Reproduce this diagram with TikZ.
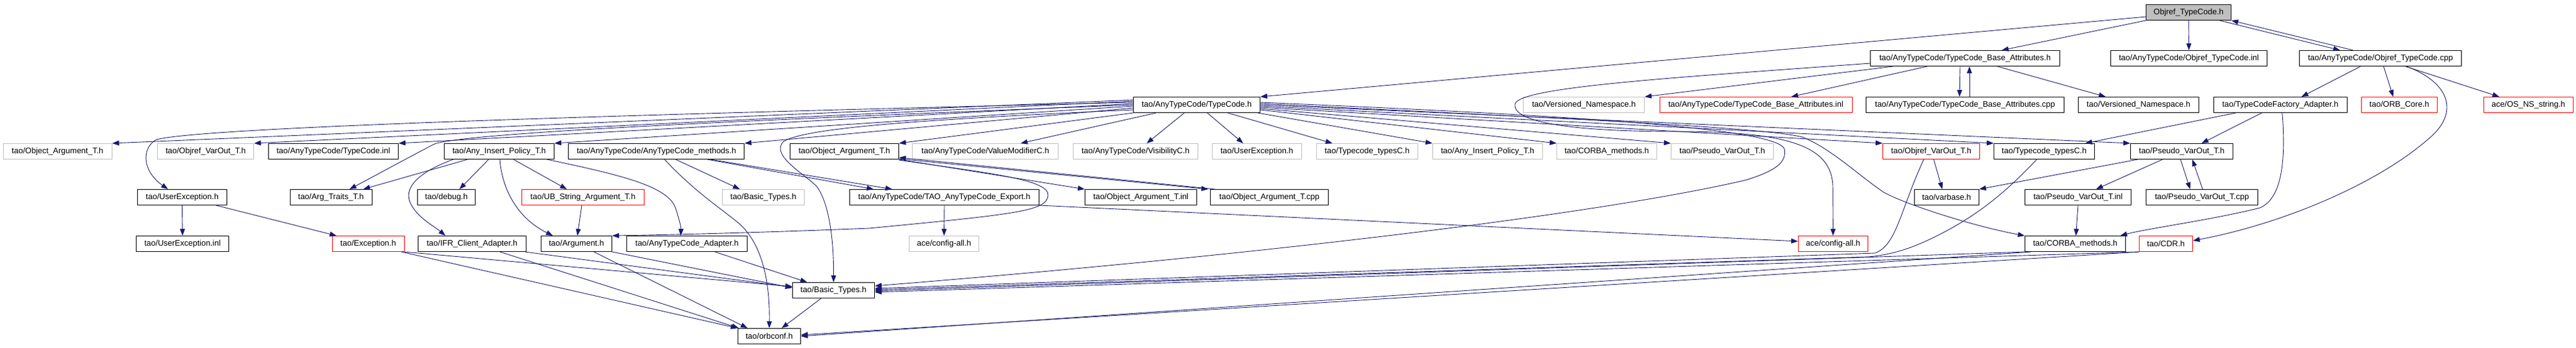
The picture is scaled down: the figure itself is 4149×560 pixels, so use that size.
\documentclass[tikz,border=0pt]{standalone}
\usepackage{fontspec}
\setmainfont{Liberation Sans}
\usepackage{tikz}
\usetikzlibrary{arrows.meta}
\definecolor{EDGEBLUE}{HTML}{191970}
\definecolor{NODEGREY}{HTML}{BFBFBF}
\tikzset{
FILE/.style={draw=black, line width=1pt, minimum height=25pt, inner sep=0pt, font=\fontsize{13}{15}\selectfont},
GREYFILE/.style={FILE, draw=NODEGREY},
REDFILE/.style={FILE, draw=red},
ROOTFILE/.style={FILE, fill=NODEGREY},
INC/.style={draw=EDGEBLUE, line width=0.9pt, -{Triangle[length=11pt,width=8pt]}},
}
\begin{document}
\begin{tikzpicture}[x=1pt,y=-1pt]
	\path[fill=white] (0,0) rectangle (4149,560); %Frame
	%Files, row by row
	\node[ROOTFILE, minimum width=137pt] (root) at (3525,20) {Objref\_TypeCode.h};
	\node[FILE, minimum width=305pt] (tbah) at (3165,94) {tao/AnyTypeCode/TypeCode\_Base\_Attributes.h};
	\node[FILE, minimum width=252pt] (otcinl) at (3525.5,94) {tao/AnyTypeCode/Objref\_TypeCode.inl};
	\node[FILE, minimum width=261pt] (otccpp) at (3834,94) {tao/AnyTypeCode/Objref\_TypeCode.cpp};
	\node[FILE, minimum width=204pt] (tch) at (1927.5,169) {tao/AnyTypeCode/TypeCode.h};
	\node[GREYFILE, minimum width=195pt] (vngrey) at (2551,169) {tao/Versioned\_Namespace.h};
	\node[REDFILE, minimum width=310pt] (tbainl) at (2828,169) {tao/AnyTypeCode/TypeCode\_Base\_Attributes.inl};
	\node[FILE, minimum width=319pt] (tbacpp) at (3165,169) {tao/AnyTypeCode/TypeCode\_Base\_Attributes.cpp};
	\node[FILE, minimum width=194pt] (vn) at (3444.4,169) {tao/Versioned\_Namespace.h};
	\node[FILE, minimum width=215pt] (tcfa) at (3672.8,169) {tao/TypeCodeFactory\_Adapter.h};
	\node[REDFILE, minimum width=122pt] (orbcore) at (3864.5,169) {tao/ORB\_Core.h};
	\node[REDFILE, minimum width=144pt] (osns) at (4072.4,169) {ace/OS\_NS\_string.h};
	\node[GREYFILE, minimum width=175pt] (oatgrey) at (92.7,244) {tao/Object\_Argument\_T.h};
	\node[GREYFILE, minimum width=155pt] (ovgrey) at (331.3,244) {tao/Objref\_VarOut\_T.h};
	\node[FILE, minimum width=209pt] (tcinl) at (537,244) {tao/AnyTypeCode/TypeCode.inl};
	\node[FILE, minimum width=177pt] (aip) at (804,244) {tao/Any\_Insert\_Policy\_T.h};
	\node[FILE, minimum width=283pt] (atcm) at (1057.3,244) {tao/AnyTypeCode/AnyTypeCode\_methods.h};
	\node[FILE, minimum width=175pt] (oat) at (1360,244) {tao/Object\_Argument\_T.h};
	\node[GREYFILE, minimum width=235pt] (vmc) at (1587,244) {tao/AnyTypeCode/ValueModifierC.h};
	\node[GREYFILE, minimum width=201pt] (vis) at (1829,244) {tao/AnyTypeCode/VisibilityC.h};
	\node[GREYFILE, minimum width=144pt] (uegrey) at (2024.3,244) {tao/UserException.h};
	\node[GREYFILE, minimum width=163pt] (ttcgrey) at (2202,244) {tao/Typecode\_typesC.h};
	\node[GREYFILE, minimum width=177pt] (aipgrey) at (2396,244) {tao/Any\_Insert\_Policy\_T.h};
	\node[GREYFILE, minimum width=161pt] (cmgrey) at (2588,244) {tao/CORBA\_methods.h};
	\node[GREYFILE, minimum width=165pt] (pvgrey) at (2774,244) {tao/Pseudo\_VarOut\_T.h};
	\node[REDFILE, minimum width=156pt] (ovred) at (3110.5,244) {tao/Objref\_VarOut\_T.h};
	\node[FILE, minimum width=162pt] (ttc) at (3292.5,244) {tao/Typecode\_typesC.h};
	\node[FILE, minimum width=165pt] (pvt) at (3514,244) {tao/Pseudo\_VarOut\_T.h};
	\node[FILE, minimum width=144pt] (ue) at (293.5,318) {tao/UserException.h};
	\node[FILE, minimum width=132pt] (argtr) at (533,318) {tao/Arg\_Traits\_T.h};
	\node[FILE, minimum width=93pt] (dbg) at (719,318) {tao/debug.h};
	\node[REDFILE, minimum width=197pt] (ubs) at (939,318) {tao/UB\_String\_Argument\_T.h};
	\node[GREYFILE, minimum width=132pt] (btgrey) at (1229.5,318) {tao/Basic\_Types.h};
	\node[FILE, minimum width=305pt] (exp) at (1521,318) {tao/AnyTypeCode/TAO\_AnyTypeCode\_Export.h};
	\node[FILE, minimum width=180pt] (oatinl) at (1837.5,318) {tao/Object\_Argument\_T.inl};
	\node[FILE, minimum width=190pt] (oatcpp) at (2044.5,318) {tao/Object\_Argument\_T.cpp};
	\node[FILE, minimum width=104pt] (vb) at (3135.3,318) {tao/varbase.h};
	\node[FILE, minimum width=171pt] (pvtinl) at (3347,318) {tao/Pseudo\_VarOut\_T.inl};
	\node[FILE, minimum width=180pt] (pvtcpp) at (3546.5,318) {tao/Pseudo\_VarOut\_T.cpp};
	\node[FILE, minimum width=149pt] (ueinl) at (294,393) {tao/UserException.inl};
	\node[REDFILE, minimum width=116pt] (exc) at (593,393) {tao/Exception.h};
	\node[FILE, minimum width=174pt] (ifr) at (760.3,393) {tao/IFR\_Client\_Adapter.h};
	\node[FILE, minimum width=114pt] (arg) at (928.5,393) {tao/Argument.h};
	\node[FILE, minimum width=194pt] (atca) at (1106.5,393) {tao/AnyTypeCode\_Adapter.h};
	\node[GREYFILE, minimum width=112pt] (cagrey) at (1520.5,393) {ace/config-all.h};
	\node[REDFILE, minimum width=112pt] (cared) at (2952.4,393) {ace/config-all.h};
	\node[FILE, minimum width=162pt] (cm) at (3342.5,393) {tao/CORBA\_methods.h};
	\node[REDFILE, minimum width=86pt] (cdr) at (3488.5,393) {tao/CDR.h};
	\node[FILE, minimum width=132pt] (bt) at (1342.5,468) {tao/Basic\_Types.h};
	\node[FILE, minimum width=101pt] (orb) at (1239,542) {tao/orbconf.h};
	%Objref_TypeCode.h
	\path[INC] (root.south west) -- ([xshift=59pt]tbah.north);
	\path[INC] (root.south) -- (otcinl.north);
	\path[INC] ([xshift=-19pt]root.south east) -- ([xshift=-65pt]otccpp.north);
	\path[INC] ([xshift=-44pt]otccpp.north) -- (root.south east);
	\path[INC] ([yshift=-7pt]root.west) -- (tch.north east);
	%TypeCode_Base_Attributes.h
	\path[INC] ([xshift=-61pt]tbah.south) -- ([xshift=57pt]tbainl.north);
	\path[INC] ([xshift=-8pt]tbah.south) -- ([xshift=-9pt]tbacpp.north);
	\path[INC] ([xshift=7pt]tbacpp.north) -- ([xshift=7pt]tbah.south);
	\path[INC] ([xshift=52pt]tbah.south) -- ([xshift=-53pt]vn.north);
	\path[INC] ([xshift=37pt]tbah.south west) -- (vngrey.north east);
	\path[INC] ([yshift=-8pt]tbah.west) .. controls (2700,125) and (2445,140) .. (2440,168)
		.. controls (2436,200) and (2550,212) .. (2700,212)
		.. controls (2880,212) and (2950,235) .. (2952,300) -- (cared.north);
	%Objref_TypeCode.cpp
	\path[INC] ([xshift=-32pt]otccpp.south) -- ([xshift=34pt]tcfa.north);
	\path[INC] ([xshift=5pt]otccpp.south) -- ([xshift=-10pt]orbcore.north);
	\path[INC] ([xshift=40pt]otccpp.south) -- ([xshift=-47pt]osns.north);
	\path[INC] ([xshift=42pt]otccpp.south) .. controls (3950,135) and (3960,185) .. (3910,225)
		.. controls (3830,295) and (3680,360) .. ([yshift=5pt]cdr.east);
	%TypeCodeFactory_Adapter.h
	\path[INC] ([xshift=-72pt]tcfa.south) -- ([xshift=66pt]ttc.north);
	\path[INC] ([xshift=-30pt]tcfa.south) -- ([xshift=32pt]pvt.north);
	\path[INC] ([xshift=3pt]tcfa.south) .. controls (3682,260) and (3675,320) .. (3640,335)
		.. controls (3560,355) and (3460,368) .. ([xshift=-9pt]cm.north east);
	%Pseudo_VarOut_T.h and neighbours
	\path[INC] ([xshift=12pt]pvt.south west) -- (vb.north east);
	\path[INC] ([xshift=-31pt]pvt.south) -- ([xshift=29pt]pvtinl.north);
	\path[INC] ([xshift=-2pt]pvt.south) -- ([xshift=-19pt]pvtcpp.north);
	\path[INC] ([xshift=1pt]pvtcpp.north) -- ([xshift=17pt]pvt.south);
	\path[INC] (pvtinl.south) -- ([xshift=1pt]cm.north);
	\path[INC] ([xshift=4pt]ovred.south) -- ([xshift=-7pt]vb.north);
	\path[INC] ([xshift=-12pt]ovred.south) .. controls (3060,340) and (3055,395) .. (3020,408)
		-- ([yshift=3pt]bt.east);
	\path[INC] ([xshift=-12pt]ttc.south) .. controls (3235,305) and (3190,345) .. (3120,380)
		.. controls (3080,400) and (3050,410) .. (3010,414) -- ([yshift=1pt]bt.east);
	\path[INC] (cm.south west) -- ([yshift=-1pt]bt.east);
	\path[INC] ([xshift=10pt]cm.south west) -- (orb.east);
	\path[INC] (cdr.south west) -- ([yshift=-3pt]bt.east);
	\path[INC] (cdr.south west) -- ([yshift=2pt]orb.east);
	%TypeCode.h, to the left
	\path[INC] ([yshift=8pt]tch.west) -- (oatgrey.north east);
	\path[INC] ([yshift=6pt]tch.west) -- (ovgrey.north east);
	\path[INC] ([yshift=4pt]tch.west) .. controls (1000,185) and (330,205) .. (252,225)
		.. controls (228,238) and (228,275) .. ([xshift=-23pt]ue.north);
	\path[INC] ([yshift=2pt]tch.west) -- (tcinl.north east);
	\path[INC] (tch.west) .. controls (1300,190) and (760,212) .. (700,232)
		.. controls (665,250) and (610,280) .. ([xshift=30pt]argtr.north);
	\path[INC] ([yshift=-2pt]tch.west) -- (aip.north east);
	\path[INC] ([yshift=-5pt]tch.west) -- (atcm.north east);
	\path[INC] ([yshift=-8pt]tch.west) .. controls (1500,192) and (1300,205) .. (1262,228)
		.. controls (1240,250) and (1295,280) .. (1315,300)
		.. controls (1338,330) and (1343,400) .. (bt.north);
	\path[INC] (tch.south west) -- (oat.north east);
	\path[INC] ([xshift=37pt]tch.south west) -- ([xshift=57pt]vmc.north);
	\path[INC] ([xshift=-20pt]tch.south) -- ([xshift=18pt]vis.north);
	\path[INC] ([xshift=17pt]tch.south) -- ([xshift=-22pt]uegrey.north);
	%TypeCode.h, to the right
	\path[INC] ([xshift=50pt]tch.south) -- ([xshift=26pt]ttcgrey.north west);
	\path[INC] ([xshift=-4pt]tch.south east) -- (aipgrey.north west);
	\path[INC] ([yshift=-8pt]tch.east) -- (cmgrey.north west);
	\path[INC] ([yshift=-6pt]tch.east) -- (pvgrey.north west);
	\path[INC] ([yshift=-4pt]tch.east) -- (ovred.north west);
	\path[INC] ([yshift=-2pt]tch.east) -- (ttc.north west);
	\path[INC] (tch.east) -- (pvt.north west);
	\path[INC] ([yshift=2pt]tch.east) .. controls (2500,190) and (2840,205) .. (2903,221)
		.. controls (2950,240) and (2990,280) .. (3034,310)
		.. controls (3070,330) and (3180,365) .. (cm.north west);
	\path[INC] ([yshift=4pt]tch.east) .. controls (2500,185) and (2860,205) .. (2874,240)
		.. controls (2878,262) and (2860,275) .. (2813,290)
		.. controls (2600,340) and (2100,405) .. ([yshift=7pt]bt.east);
	%Any_Insert_Policy_T.h
	\path[INC] ([xshift=-51pt]aip.south) -- ([xshift=52pt]argtr.north);
	\path[INC] ([xshift=-74pt]aip.south) .. controls (680,275) and (650,300) .. (660,325)
		.. controls (670,350) and (700,365) .. ([xshift=-43pt]ifr.north);
	\path[INC] ([xshift=-17pt]aip.south) -- ([xshift=21pt]dbg.north);
	\path[INC] ([xshift=1pt]aip.south) .. controls (808,300) and (830,350) .. ([xshift=-38pt]arg.north);
	\path[INC] ([xshift=23pt]aip.south) -- ([xshift=-26pt]ubs.north);
	\path[INC] ([xshift=-12pt]aip.south east) .. controls (1000,282) and (1075,300) .. (1088,335)
		.. controls (1094,355) and (1097,365) .. ([xshift=-10pt]atca.north);
	\path[INC] ([xshift=-2pt]ubs.south) -- ([xshift=1.5pt]arg.north);
	%UserException.h
	\path[INC] (ue.south) -- (ueinl.north);
	\path[INC] ([xshift=-18pt]ue.south east) -- ([xshift=-51pt]exc.north);
	%AnyTypeCode_methods.h
	\path[INC] ([xshift=31pt]atcm.south) -- ([xshift=-38pt]btgrey.north);
	\path[INC] ([xshift=13pt]atcm.south) .. controls (1120,310) and (1160,335) .. (1190,360)
		.. controls (1230,395) and (1240,460) .. (orb.north);
	\path[INC] ([xshift=-60pt]atcm.south east) -- ([xshift=-114pt]exp.north);
	\path[INC] ([xshift=-55pt]atcm.south east) -- ([xshift=-84pt]exp.north);
	%Object_Argument_T.h
	\path[INC] (oat.south east) -- (oatinl.north west);
	\path[INC] ([yshift=1pt]oat.south east) -- ([xshift=-3pt]oatcpp.north west);
	\path[INC] ([xshift=8pt]oatcpp.north west) -- ([yshift=3pt]oat.south east);
	\path[INC] ([yshift=-1pt]oat.south east) .. controls (1600,280) and (1690,290) .. (1688,315)
		.. controls (1686,340) and (1640,345) .. (1400,368)
		.. controls (1200,376) and (1050,379) .. (arg.north east);
	%TAO_AnyTypeCode_Export.h
	\path[INC] (exp.south) -- (cagrey.north);
	\path[INC] (exp.south east) -- ([yshift=4pt]cared.west);
	%Down to Basic_Types.h and orbconf.h
	\path[INC] (exc.south east) -- ([yshift=6pt]bt.west);
	\path[INC] ([xshift=-5pt]exc.south east) -- (orb.north west);
	\path[INC] ([xshift=-2pt]ifr.south east) -- ([yshift=5pt]bt.west);
	\path[INC] ([xshift=45pt]ifr.south) -- ([xshift=2pt]orb.north west);
	\path[INC] (arg.south east) -- ([yshift=4pt]bt.west);
	\path[INC] ([xshift=28pt]arg.south) -- ([xshift=16pt]orb.north west);
	\path[INC] ([xshift=45pt]atca.south) -- ([xshift=24pt]bt.north west);
	\path[INC] ([xshift=-20pt]bt.south) -- ([xshift=20pt]orb.north);
\end{tikzpicture}
\end{document}
